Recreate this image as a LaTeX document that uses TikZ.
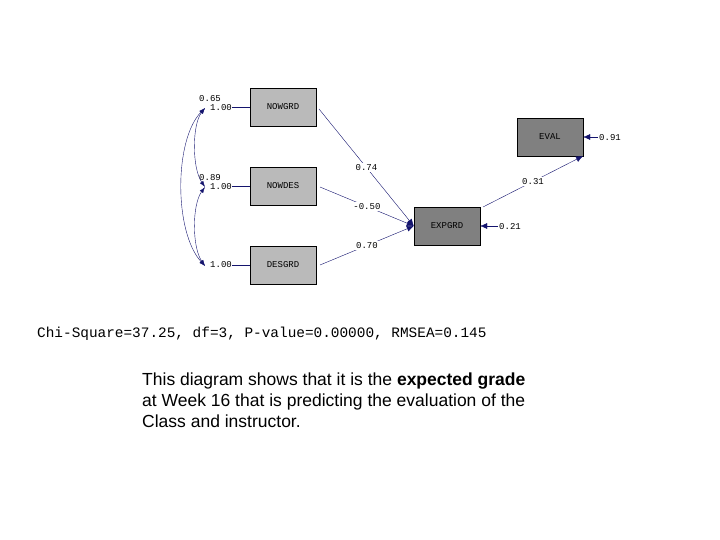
\documentclass[tikz,border=0pt]{standalone}
\usepackage{fontspec}
\setmainfont{Liberation Sans}
\newfontfamily\monof{Liberation Mono}
\usetikzlibrary{arrows.meta}
\definecolor{navy}{RGB}{20,20,110}
\tikzset{
  box/.style={draw=black,minimum width=66pt,minimum height=38pt,inner sep=0pt,font=\monof\fontsize{9}{10}\selectfont},
  lb/.style={fill=black!27},
  db/.style={fill=black!50},
  lab/.style={font=\monof\fontsize{9}{10}\selectfont,inner sep=1pt,fill=white},
  con/.style={draw=navy,line width=0.4pt,-{Latex[length=7pt,width=6pt]}},
  arc/.style={draw=navy,line width=0.4pt,{Latex[length=6pt,width=4pt]}-{Latex[length=6pt,width=4pt]}}
}
\begin{document}
\begin{tikzpicture}[x=1pt,y=-1pt]
\useasboundingbox (0,0) rectangle (720,540);
\node[box,lb] (ng) at (283,107) {NOWGRD};
\node[box,lb] (nd) at (283,186) {NOWDES};
\node[box,lb] (dg) at (283,265) {DESGRD};
\node[box,db] (ex) at (447,226) {EXPGRD};
\node[box,db] (ev) at (550,137) {EVAL};
\coordinate (a1) at (205,108);
\coordinate (a2) at (205,187);
\coordinate (a3) at (205,266);
\draw[navy] (232,107) -- (ng.west);
\draw[navy] (232,186) -- (nd.west);
\draw[navy] (232,265) -- (dg.west);
\node[lab,fill=none] (v1) at (221,108) {1.00};
\node[lab,fill=none] (v2) at (221,187) {1.00};
\node[lab,fill=none] (v3) at (221,265) {1.00};
\node[lab,fill=none] (c1) at (210,99) {0.65};
\node[lab,fill=none] (c2) at (210,178) {0.89};
\draw[arc] (a1) .. controls (192,125) and (192,168) .. (a2);
\draw[arc] (a2) .. controls (192,205) and (192,247) .. (a3);
\draw[arc] (a1) .. controls (174,140) and (174,232) .. (a3);
\coordinate (s1) at (319,109);
\coordinate (s2) at (320,187);
\coordinate (s3) at (320,265);
\draw[con] (s1) -- (ex.west) node[lab,pos=0.5] {0.74};
\draw[con] (s2) -- (ex.west) node[lab,pos=0.5] {-0.50};
\draw[con] (s3) -- (ex.west) node[lab,pos=0.5] {0.70};
\coordinate (e1) at (483,207);
\coordinate (e2) at (583,156);
\draw[con] (e1) -- (e2) node[lab,pos=0.5] {0.31};
\coordinate (r1) at (500,226);
\coordinate (r2) at (600,137);
\draw[con] (r1) -- (ex.east);
\node[lab,anchor=west] (t1) at (498,227) {0.21};
\draw[con] (r2) -- (ev.east);
\node[lab,anchor=west] (t2) at (598,138) {0.91};
\node[font=\monof\fontsize{14.4}{15}\selectfont,anchor=west,inner sep=0pt] (chi) at (37,334) {Chi-Square=37.25, df=3, P-value=0.00000, RMSEA=0.145};
\node[anchor=north west,align=left,inner sep=0pt,font=\fontsize{17.5}{21}\selectfont] (txt) at (142,373) {This diagram shows that it is the \textbf{expected grade}\\at Week 16 that is predicting the evaluation of the\\Class and instructor.};
\end{tikzpicture}
\end{document}
